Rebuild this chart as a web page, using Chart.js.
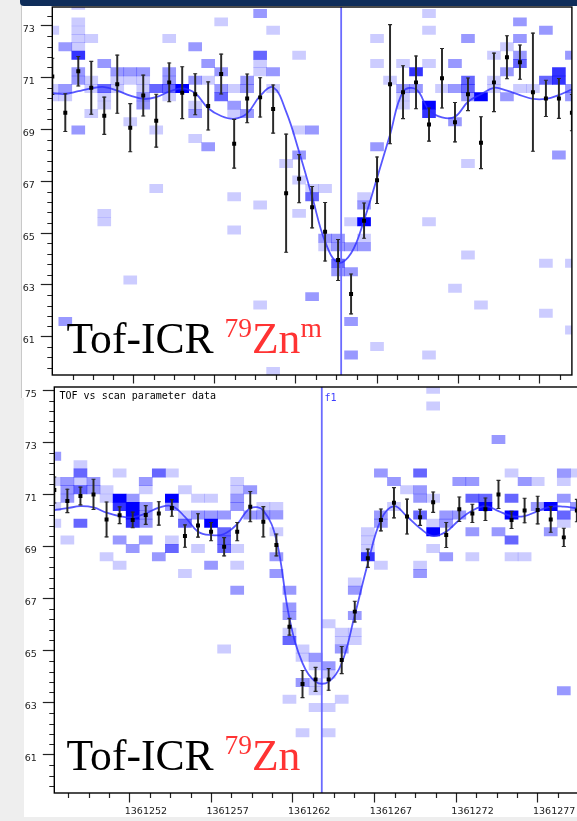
<!DOCTYPE html>
<html>
<head>
<meta charset="utf-8">
<script src="https://cdn.jsdelivr.net/npm/chart.js@4.4.1/dist/chart.umd.min.js"></script>
<style>
  html, body { margin: 0; padding: 0; }
  body { width: 577px; height: 821px; background: #eeeeee; overflow: hidden; position: relative; }
  .sheet { position: absolute; background: #fff; }
  #topSheet { left: 21px; top: 0; width: 556px; height: 398px; border-left: 1px solid #c9c9c9; }
  #botSheet { left: 24px; top: 398px; width: 553px; height: 419px; }
  #navBar { position: absolute; left: 20px; top: 0; width: 557px; height: 6px; background: #0f2d5a; border-bottom-left-radius: 4px; }
  canvas { position: absolute; }
  #topCanvas { left: 0; top: 0; }
  #botCanvas { left: 0; top: 380px; }
  .mono { position: absolute; font: 10px "DejaVu Sans Mono", monospace; line-height: 10px; white-space: pre; }
  .big { position: absolute; font-family: "Liberation Serif", "DejaVu Serif", serif; font-size: 43.6px; line-height: 43.6px; color: #000; white-space: nowrap; }
  .big .red { color: #ff3333; }
  .big sup { font-size: 27.5px; position: relative; top: -16px; vertical-align: baseline; line-height: 0; }
</style>
</head>
<body>
<div class="sheet" id="topSheet"></div>
<div class="sheet" id="botSheet"></div>
<canvas id="topCanvas" width="577" height="386"></canvas>
<div id="navBar"></div>
<canvas id="botCanvas" width="600" height="441"></canvas>
<div class="mono" style="left:59.5px; top:391px; color:#000;">TOF vs scan parameter data</div>
<div class="mono" style="left:324.5px; top:393px; color:#3c3cff;">f1</div>
<div class="big" style="left:66.5px; top:316.5px;">Tof-ICR <span class="red"><sup>79</sup>Zn<sup>m</sup></span></div>
<div class="big" style="left:66.5px; top:733.5px;">Tof-ICR <span class="red"><sup>79</sup>Zn</span></div>
<script>
// scan parameter of each step (bin centres)
const topScanStart = 1361247.0;
const botScanStart = 1361247.4;
const scanStep = 0.8;
const topF1 = 1361264.79;
const botF1 = 1361263.78;

// mean TOF per scan step, its error and the fitted curve - 79Zn(m)
const topMeans = [71.05, 69.65, 71.25, 70.61, 69.53, 70.75, 69.07, 70.31, 69.34, 70.82, 70.42, 70.36, 69.91, 71.14, 68.45, 70.2, 70.24, 69.79, 66.54, 67.1, 66.0, 65.05, 63.96, 62.65, 65.48, 67.04, 70.75, 70.44, 70.82, 69.19, 70.98, 69.28, 70.36, 68.49, 70.82, 71.79, 71.6, 70.44, 70.2, 70.2, 69.65];
const topErrors = [0.7, 0.73, 0.57, 1.02, 0.72, 1.12, 0.93, 0.79, 1.02, 0.75, 1.0, 0.79, 0.93, 0.77, 0.94, 0.94, 0.76, 0.93, 2.28, 0.93, 0.8, 1.13, 0.79, 0.77, 0.68, 0.9, 2.3, 1.02, 1.02, 0.64, 1.15, 0.76, 0.63, 1.0, 1.13, 0.83, 0.66, 2.28, 0.7, 0.77, 0.7];
const topFit = [70.40, 70.37, 70.48, 70.59, 70.64, 70.5, 70.31, 70.18, 70.25, 70.46, 70.59, 70.40, 69.82, 69.52, 69.41, 69.62, 70.3, 70.63, 69.69, 68.14, 66.41, 64.67, 63.86, 64.22, 65.5, 67.13, 68.8, 70.46, 70.55, 69.75, 69.47, 69.49, 70.07, 70.36, 70.61, 70.5, 70.33, 70.18, 70.18, 70.33, 70.55];

// same for 79Zn
const botMeans = [71.17, 70.75, 70.94, 71.0, 70.04, 70.2, 70.02, 70.21, 70.27, 70.48, 69.4, 69.81, 69.57, 68.99, 69.57, 70.53, 69.95, 69.06, 65.92, 63.72, 63.9, 63.9, 64.64, 66.5, 68.55, 70.02, 70.68, 70.15, 70.12, 70.7, 69.44, 70.43, 70.27, 70.43, 71.0, 70.02, 70.38, 70.4, 70.04, 69.35, 70.38];
const botErrors = [0.5, 0.45, 0.34, 0.58, 0.67, 0.32, 0.3, 0.36, 0.45, 0.32, 0.43, 0.45, 0.35, 0.35, 0.35, 0.58, 0.58, 0.42, 0.32, 0.52, 0.46, 0.42, 0.52, 0.4, 0.35, 0.42, 0.58, 0.67, 0.31, 0.39, 0.48, 0.47, 0.35, 0.43, 0.54, 0.33, 0.47, 0.53, 0.49, 0.35, 0.43];
const botFit = [70.4, 70.47, 70.55, 70.5, 70.3, 70.17, 70.12, 70.27, 70.49, 70.55, 70.14, 69.57, 69.44, 69.48, 69.86, 70.47, 70.38, 69.25, 66.24, 64.52, 63.81, 63.81, 64.52, 66.37, 68.35, 70.02, 70.55, 70.15, 69.7, 69.4, 69.57, 70.02, 70.38, 70.55, 70.36, 70.17, 70.17, 70.36, 70.53, 70.53, 70.47];

// TOF histogram cells: [scan step, tof row, intensity 1..5]
const tofBinHeight = 0.3215;
const topRowBase = 71.066;
const botRowBase = 71.015;
const topCells = [
  [0,5,1],[0,-2,1],[0,-3,1],
  [1,3,2],[1,-2,2],[1,-3,1],[1,-30,2],
  [2,8,1],[2,6,1],[2,5,1],[2,4,1],[2,3,1],[2,2,4],[2,0,2],[2,-1,2],[2,-7,2],
  [3,4,1],[3,-1,1],[3,-2,1],[3,-5,1],
  [4,1,2],[4,-2,3],[4,-3,1],[4,-4,1],[4,-17,1],[4,-18,1],
  [5,0,2],[5,-1,1],[5,-2,1],
  [6,0,2],[6,-1,1],[6,-6,1],[6,-25,1],
  [7,0,2],[7,-1,1],[7,-2,1],[7,-3,2],[7,-4,2],
  [8,-2,3],[8,-7,1],[8,-14,1],
  [9,4,1],[9,0,2],[9,-1,2],[9,-2,3],[9,-3,1],
  [10,-2,5],
  [11,3,2],[11,-1,2],[11,-4,1],[11,-5,2],[11,-8,1],
  [12,1,2],[12,-1,1],[12,-9,2],
  [13,6,1],[13,0,2],[13,-2,2],[13,-3,3],
  [14,-2,1],[14,-4,2],[14,-5,1],[14,-15,1],[14,-19,1],
  [15,-1,2],[15,-2,2],[15,-5,2],
  [16,7,2],[16,2,3],[16,1,1],[16,0,1],[16,-16,1],[16,-28,1],
  [17,5,1],[17,0,2],[17,-2,1],[17,-36,1],
  [18,-11,1],
  [19,2,1],[19,-7,1],[19,-10,2],[19,-13,1],[19,-17,1],
  [20,-7,2],[20,-14,1],[20,-15,3],[20,-27,2],
  [21,-14,1],[21,-20,2],[21,-21,1],
  [22,-20,2],[22,-21,2],[22,-23,3],[22,-24,2],
  [23,-18,1],[23,-21,2],[23,-24,2],[23,-30,2],[23,-34,2],
  [24,-15,1],[24,-16,2],[24,-18,5],[24,-20,1],[24,-21,2],
  [25,4,1],[25,1,1],[25,-9,2],[25,-33,1],
  [26,-1,1],
  [27,1,1],[27,-2,2],[27,-3,1],[27,-4,1],
  [28,0,4],[28,-2,2],
  [29,7,1],[29,5,1],[29,1,1],[29,-4,5],[29,-5,4],[29,-18,1],[29,-34,1],
  [30,-2,1],
  [31,1,2],[31,-2,2],[31,-6,2],[31,-26,1],
  [32,4,2],[32,-1,3],[32,-2,3],[32,-3,2],[32,-11,1],[32,-22,1],
  [33,-3,5],[33,-28,1],
  [34,2,1],[34,-1,1],[34,-2,1],
  [35,3,1],[35,0,2],[35,-3,2],
  [36,6,2],[36,4,2],[36,2,2],[36,1,3],[36,-2,1],
  [37,-2,1],
  [38,5,2],[38,-1,3],[38,-23,1],[38,-29,1],
  [39,0,4],[39,-1,4],[39,-10,2],
  [40,2,2],[40,-2,2],[40,-3,2],[40,-23,1],[40,-31,1]
];
const botCells = [
  [0,4,2],[0,1,1],[0,-2,1],[0,-4,1],
  [1,1,2],[1,0,2],[1,-1,2],[1,-6,1],
  [2,3,1],[2,2,3],[2,1,1],[2,0,3],[2,-4,3],
  [3,1,2],[3,0,2],
  [4,0,1],[4,-1,1],[4,-8,1],
  [5,2,1],[5,-1,5],[5,-2,4],[5,-6,2],[5,-9,1],
  [6,-1,2],[6,-2,5],[6,-3,5],[6,-4,4],[6,-7,2],
  [7,1,2],[7,0,1],[7,-2,2],[7,-3,2],[7,-4,2],[7,-6,2],
  [8,2,3],[8,-8,2],
  [9,2,1],[9,-1,5],[9,-2,2],[9,-6,1],[9,-7,3],
  [10,0,1],[10,-3,1],[10,-4,3],[10,-10,1],
  [11,-1,1],[11,-3,2],[11,-7,1],
  [12,-1,1],[12,-3,2],[12,-4,5],[12,-9,2],
  [13,-3,2],[13,-5,3],[13,-6,3],[13,-7,3],[13,-19,1],
  [14,1,1],[14,0,1],[14,-1,2],[14,-2,2],[14,-7,1],[14,-9,1],[14,-12,2],
  [15,0,2],[15,-3,2],
  [16,-2,1],[16,-3,2],
  [17,-2,1],[17,-3,2],[17,-5,1],[17,-8,2],[17,-10,2],
  [18,-12,2],[18,-14,2],[18,-15,2],[18,-17,1],[18,-18,3],[18,-25,1],
  [19,-19,1],[19,-20,1],[19,-23,2],[19,-29,1],
  [20,-20,2],[20,-21,1],[20,-23,1],[20,-24,1],[20,-26,1],
  [21,-16,1],[21,-21,2],[21,-22,1],[21,-26,1],[21,-29,1],
  [22,-17,1],[22,-18,1],[22,-19,2],[22,-25,1],
  [23,-11,1],[23,-12,2],[23,-15,2],[23,-17,1],[23,-18,1],
  [24,-5,1],[24,-6,1],[24,-7,1],[24,-8,4],
  [25,2,2],[25,-3,2],[25,-4,2],[25,-9,1],
  [26,1,2],[26,-2,1],
  [27,0,1],
  [28,2,3],[28,0,2],[28,-1,2],[28,-3,3],[28,-9,1],[28,-10,2],
  [29,12,1],[29,10,1],[29,-1,1],[29,-4,1],[29,-5,5],[29,-7,1],
  [30,-3,2],[30,-4,2],[30,-8,2],
  [31,1,2],[31,-3,2],
  [32,1,2],[32,-1,3],[32,-5,2],[32,-8,1],
  [33,-1,3],[33,-2,5],
  [34,6,2],[34,-5,2],
  [35,2,1],[35,-1,3],[35,-3,5],[35,-6,3],[35,-8,1],
  [36,1,2],[36,-8,1],
  [37,1,1],[37,-2,2],
  [38,-2,5],[38,-5,2],
  [39,2,2],[39,1,1],[39,-1,2],[39,-3,3],[39,-4,1],[39,-24,2],
  [40,2,1],[40,-2,2]
];

// axis ticks
const tofTickLabels = [61, 63, 65, 67, 69, 71, 73, 75];
const tofMinorStep = 0.4;
const scanTickLabels = [1361252, 1361257, 1361262, 1361267, 1361272, 1361277];
const scanMinorStep = 1.25;

const cellAlpha = [0, 0.2, 0.4, 0.6, 0.8, 1];
const tickFont = { family: 'DejaVu Sans', size: 9.5 };

function minorValues(majors, step, perMajor, lo, hi) {
  const out = [];
  const first = majors[0];
  for (let n = Math.ceil((lo - first) / step); first + n * step <= hi; n++) {
    if (n % perMajor === 0) continue;
    out.push(first + n * step);
  }
  return out;
}

// black frame round the plot and the short minor ticks
function framePlugin(xMinor, yMinor) {
  return {
    id: 'frame',
    afterDatasetsDraw(chart) {
      const { ctx, chartArea: a, scales } = chart;
      ctx.save();
      ctx.strokeStyle = '#222';
      ctx.lineWidth = 1.2;
      ctx.beginPath();
      yMinor.forEach(v => {
        const y = Math.round(scales.y.getPixelForValue(v)) + 0.5;
        ctx.moveTo(a.left - 5, y);
        ctx.lineTo(a.left, y);
      });
      xMinor.forEach(v => {
        const x = Math.round(scales.x.getPixelForValue(v)) + 0.5;
        ctx.moveTo(x, a.bottom);
        ctx.lineTo(x, a.bottom + 5);
      });
      ctx.stroke();
      ctx.strokeStyle = '#000';
      ctx.lineWidth = 1.4;
      ctx.strokeRect(a.left, a.top, a.right - a.left, a.bottom - a.top);
      ctx.restore();
    }
  };
}

function noPadding(s) {
  s.paddingLeft = 0; s.paddingRight = 0; s.paddingTop = 0; s.paddingBottom = 0;
}

function makePanel(p) {
  const xs = p.means.map((_, i) => p.scanStart + i * scanStep);
  const cells = p.cells.map(c => ({
    x: p.scanStart + c[0] * scanStep,
    y: [p.rowBase + c[1] * tofBinHeight, p.rowBase + (c[1] + 1) * tofBinHeight]
  }));
  const cellColors = p.cells.map(c => 'rgba(0,0,255,' + cellAlpha[c[2]] + ')');
  const caps = [];
  p.means.forEach((m, i) => {
    caps.push({ x: xs[i], y: m - p.errors[i] });
    caps.push({ x: xs[i], y: m + p.errors[i] });
  });

  const xMinor = minorValues(scanTickLabels, scanMinorStep, 4, p.xMin, p.xMax);
  const yMinor = minorValues(tofTickLabels, tofMinorStep, 5, p.yMin, p.yMax);

  new Chart(document.getElementById(p.canvas), {
    type: 'bar',
    data: {
      datasets: [
        {
          type: 'bar', data: cells, backgroundColor: cellColors, borderWidth: 0,
          barPercentage: 1, categoryPercentage: 1, grouped: false, order: 6
        },
        {
          type: 'line', data: [{ x: p.f1, y: p.yMin }, { x: p.f1, y: p.yMax }],
          borderColor: '#6b6bff', borderWidth: 1.8, pointRadius: 0, order: 5
        },
        {
          type: 'line', data: xs.map((x, i) => ({ x: x, y: p.fit[i] })),
          borderColor: 'rgba(45,45,255,0.8)', borderWidth: 1.8, tension: 0.4,
          pointRadius: 0, fill: false, order: 4
        },
        {
          type: 'bar', data: xs.map((x, i) => ({ x: x, y: [p.means[i] - p.errors[i], p.means[i] + p.errors[i]] })),
          backgroundColor: '#2a2a2a', barThickness: 1.3, grouped: false, borderWidth: 0, order: 3
        },
        {
          type: 'scatter', data: caps, pointStyle: 'line', pointRadius: 2,
          pointBorderColor: '#2a2a2a', pointBorderWidth: 1.1, order: 2
        },
        {
          type: 'scatter', data: xs.map((x, i) => ({ x: x, y: p.means[i] })),
          pointStyle: 'rect', pointRadius: 2.8, pointBackgroundColor: '#000',
          pointBorderWidth: 0, order: 1
        }
      ]
    },
    options: {
      responsive: false,
      animation: false,
      devicePixelRatio: 1,
      events: [],
      layout: { padding: { left: p.padLeft, right: p.padRight, top: p.padTop, bottom: 0 } },
      plugins: { legend: { display: false }, tooltip: { enabled: false } },
      scales: {
        x: {
          type: 'linear', min: p.xMin, max: p.xMax, offset: false,
          afterBuildTicks: s => { s.ticks = scanTickLabels.map(v => ({ value: v })); },
          afterFit: s => { s.height = p.xAxisHeight; noPadding(s); },
          grid: { offset: false, drawOnChartArea: false, tickLength: p.xTickLength, tickColor: '#222', tickWidth: 1.2 },
          border: { display: false },
          ticks: {
            display: p.scanLabels, autoSkip: false, maxRotation: 0, labelOffset: 16.5,
            padding: 3, color: '#1a1a1a', font: tickFont, callback: v => String(v)
          }
        },
        y: {
          type: 'linear', min: p.yMin, max: p.yMax,
          afterBuildTicks: s => { s.ticks = tofTickLabels.filter(v => v >= p.yMin && v <= p.yMax).map(v => ({ value: v })); },
          afterFit: s => { s.width = 30.3; noPadding(s); },
          grid: { drawOnChartArea: false, tickLength: 11.5, tickColor: '#222', tickWidth: 1.2 },
          border: { display: false },
          ticks: {
            autoSkip: false, labelOffset: 4, padding: 6, color: '#1a1a1a',
            font: tickFont, callback: v => String(v)
          }
        }
      }
    },
    plugins: [framePlugin(xMinor, yMinor)]
  });
}

makePanel({
  canvas: 'topCanvas', scanStart: topScanStart, f1: topF1,
  means: topMeans, errors: topErrors, fit: topFit, cells: topCells, rowBase: topRowBase,
  xMin: 1361247.0, xMax: 1361279.0, yMin: 59.52, yMax: 73.73,
  padLeft: 22, padRight: 1.7, padTop: 7, xAxisHeight: 11, xTickLength: 8.5, scanLabels: false
});

makePanel({
  canvas: 'botCanvas', scanStart: botScanStart, f1: botF1,
  means: botMeans, errors: botErrors, fit: botFit, cells: botCells, rowBase: botRowBase,
  xMin: 1361247.4, xMax: 1361279.88, yMin: 59.538, yMax: 75.123,
  padLeft: 24, padRight: 15.3, padTop: 7, xAxisHeight: 28, xTickLength: 9.5, scanLabels: true
});
</script>
</body>
</html>
